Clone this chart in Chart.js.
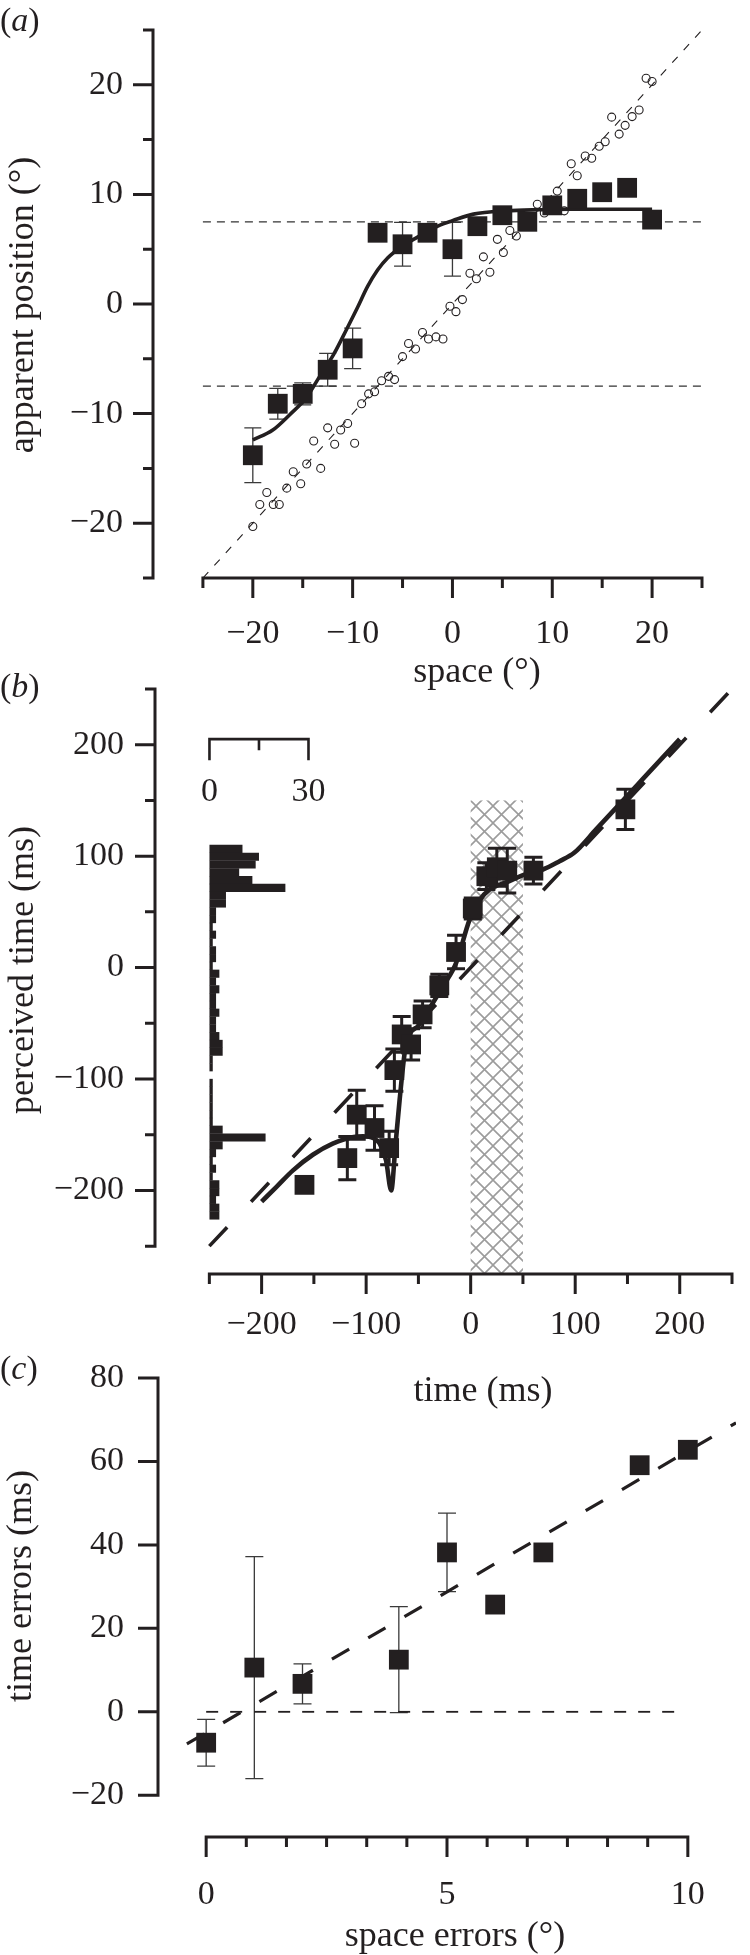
<!DOCTYPE html>
<html><head><meta charset="utf-8">
<script src="https://cdn.jsdelivr.net/npm/chart.js@4/dist/chart.umd.min.js"></script>
<style>
html,body{margin:0;padding:0;background:#fff;}
body{width:750px;height:1955px;position:relative;overflow:hidden;}
canvas{position:absolute;left:0;}
</style></head><body>
<canvas id="ca" width="750" height="700" style="top:0;width:750px;height:700px"></canvas>
<canvas id="cb" width="750" height="760" style="top:670px;width:750px;height:760px"></canvas>
<canvas id="cc" width="750" height="605" style="top:1350px;width:750px;height:605px"></canvas>
<script>
const INK = '#231f20';
const SERIF = '"Liberation Serif", "Times New Roman", Times, serif';

// ---------- Panel (a): apparent position vs space ----------
const aSpace    = [-20, -17.5, -15, -12.5, -10, -7.5, -5, -2.5, 0, 2.5, 5, 7.5, 10, 12.5, 15, 17.5, 20];
const aApparent = [-13.8, -9.1, -8.2, -6.0, -4.05, 6.5, 5.45, 6.5, 5.0, 7.1, 8.1, 7.5, 9.0, 9.6, 10.2, 10.6, 7.7];
const aErr      = [2.5, 1.4, 1.0, 1.5, 1.85, 0, 2.0, 0, 2.45, 0, 0, 0, 0, 0, 0, 0, 0];
const aCircleX  = [-20.0, -19.3, -18.6, -17.95, -17.35, -16.6, -15.95, -15.2, -14.6, -13.2, -13.9, -12.5, -11.8, -11.2, -10.5, -9.8, -9.1, -8.4, -7.8, -7.1, -6.4, -5.8, -5.0, -4.4, -3.7, -3.0, -2.4, -1.65, -0.95, -0.25, 0.35, 1.0, 1.75, 2.4, 3.75, 3.1, 5.1, 4.5, 5.75, 6.4, 8.5, 9.2, 10.5, 11.2, 11.9, 12.5, 13.3, 13.95, 14.7, 15.3, 15.95, 16.7, 17.3, 18.0, 18.7, 19.4, 20.0];
const aCircleY  = [-20.3, -18.3, -17.2, -18.3, -18.3, -16.8, -15.3, -16.4, -14.6, -15.0, -12.5, -11.3, -12.8, -11.5, -10.9, -12.7, -9.1, -8.2, -8.0, -7.0, -6.6, -6.9, -4.8, -3.6, -4.1, -2.6, -3.2, -3.0, -3.2, -0.2, -0.7, 0.4, 2.8, 2.3, 2.9, 4.3, 4.7, 5.9, 6.7, 6.2, 9.1, 8.3, 10.3, 8.5, 12.8, 11.7, 13.5, 13.3, 14.4, 14.8, 17.05, 15.5, 16.3, 17.1, 17.7, 20.6, 20.3];
const aFitX     = [-20, -18, -16.3, -14.6, -13.3, -11.9, -10.6, -9.5, -8.5, -7.5, -6.5, -5, -3.5, -2.5, -1.25, 0, 2.1, 5.4, 8.8, 12, 15.4, 20];
const aFitY     = [-12.4, -11.5, -10.1, -8.5, -6.6, -4.6, -2.3, -0.3, 1.6, 3.1, 4.2, 5.3, 6.1, 6.6, 7.2, 7.6, 8.2, 8.5, 8.6, 8.65, 8.65, 8.65];
const aRefX     = [-25, 25];
const aRefY     = [-25, 25];
const aBoundX   = [-25, 25];
const aUpperY   = [7.5, 7.5];
const aLowerY   = [-7.5, -7.5];
const aXTicks   = [-20, -10, 0, 10, 20];
const aXMinor   = [-25, -15, -5, 5, 15, 25];
const aYTicks   = [-20, -10, 0, 10, 20];
const aYMinor   = [-25, -15, -5, 5, 15, 25];

// ---------- Panel (b): perceived time vs time ----------
const bTime      = [-159, -118, -109, -92, -78, -73, -66, -57, -46, -30, -14, 2, 15, 25, 35, 60, 148];
const bPerceived = [-195, -171, -132, -144, -162, -92, -60, -69, -42, -16, 14, 53, 82, 90, 87, 87, 142];
const bErr       = [3, 19.5, 22, 20, 15, 19, 16, 14, 12, 10, 15, 9.5, 12, 17, 20, 12, 18];
const bFitX      = [-200, -186, -170, -151, -132, -112, -103, -93, -87, -81, -76, -72, -68, -62, -50, -39, -26, -14, -1, 9, 18, 37, 50, 69, 85, 99, 120, 160, 200];
const bFitY      = [-210, -197, -182, -168, -158, -152, -151.5, -153, -158, -173, -200, -160, -119, -70, -52, -36, -16, 4, 43, 61, 70, 77.5, 83, 88, 95.5, 103, 124, 164.5, 205];
const bRefX      = [-250, 250];
const bRefY      = [-250, 250];
const bHistBins  = [106.5, 99.5, 92.5, 85.5, 78.5, 71.5, 64.5, 57.5, 50.5, 43.5, 36.5, 29.5, 22.5, 15.5, 8.5, 1.5, -5.5, -12.5, -19.5, -26.5, -33.5, -40.5, -47.5, -54.5, -61.5, -68.5, -75.5, -82.5, -89.5, -96.5, -103.5, -110.5, -117.5, -124.5, -131.5, -138.5, -145.5, -152.5, -159.5, -166.5, -173.5, -180.5, -187.5, -194.5, -201.5, -208.5, -215.5, -222.5];
const bHistCounts= [10, 15, 14, 9, 13, 23, 5, 5, 2, 2, 1, 2, 1, 2, 2, 1, 3, 2, 3, 2, 2, 3, 2, 2, 3, 4, 4, 1, 1, 0, 1, 1, 1, 1, 1, 1, 4, 17, 4, 2, 1, 2, 1, 3, 3, 2, 3, 3];
const bHatchTime = [0, 50];
const bHatchTop  = 150;
const bHistAxisLevel = 205;
const bHistAxisTicks = [0, 30];
const bHistAxisMinor = [15];
const bXTicks    = [-200, -100, 0, 100, 200];
const bXMinor    = [-250, -150, -50, 50, 150, 250];
const bYTicks    = [-200, -100, 0, 100, 200];
const bYMinor    = [-250, -150, -50, 50, 150, 250];

// ---------- Panel (c): time errors vs space errors ----------
const cSpaceErr = [0, 1, 2, 4, 5, 6, 7, 9, 10];
const cTimeErr  = [-7.4, 10.6, 6.7, 12.5, 38.2, 25.7, 38.2, 59.1, 62.8];
const cErr      = [5.6, 26.6, 4.8, 12.7, 9.4, 0, 0, 0, 0];
const cFitX     = [-0.4, 11];
const cFitY     = [-7.7, 69.25];
const cZeroX    = [0, 9.9];
const cZeroY    = [0, 0];
const cXTicks   = [0, 5, 10];
const cXMinor   = [0.8333, 1.6667, 2.5, 3.3333, 4.1667, 5.8333, 6.6667, 7.5, 8.3333, 9.1667];
const cYTicks   = [-20, 0, 20, 40, 60, 80];

// ---------- helpers ----------
const pts = (xs, ys) => xs.map((x, i) => ({x, y: ys[i]}));
const fmt = v => (v < 0 ? '\u2212' + Math.abs(v) : String(v));

function axisScale(axis, min, max, tickVals, boxSize, pad) {
  return {
    type: 'linear', axis, position: axis === 'x' ? 'bottom' : 'left', min, max, offset: false,
    grid: {display: false, drawTicks: false, offset: false}, border: {display: false},
    afterBuildTicks: s => { s.ticks = tickVals.map(v => ({value: v})); },
    afterFit: s => {
      if (axis === 'x') s.height = boxSize; else s.width = boxSize;
      s.paddingTop = 0; s.paddingBottom = 0; s.paddingLeft = 0; s.paddingRight = 0;
    },
    ticks: {autoSkip: false, maxRotation: 0, minRotation: 0, padding: pad, color: INK,
            font: {family: SERIF, size: 34}, callback: v => fmt(v)}
  };
}
function lineDs(data, o) {
  return Object.assign({type: 'line', data, showLine: true, pointRadius: 0, pointHoverRadius: 0,
    fill: false, borderColor: INK, backgroundColor: INK, borderWidth: 1, tension: 0,
    xAxisID: 'x', yAxisID: 'y'}, o);
}
function squareDs(data, o) {
  return Object.assign({type: 'scatter', data, pointStyle: 'rect', pointRadius: 14, pointHoverRadius: 14,
    pointBackgroundColor: INK, pointBorderWidth: 0, backgroundColor: INK, borderColor: INK,
    xAxisID: 'x', yAxisID: 'y'}, o);
}
function baseOptions(padding, scales) {
  return {responsive: false, animation: false, devicePixelRatio: 1, events: [],
    layout: {padding}, plugins: {legend: {display: false}, tooltip: {enabled: false}}, scales};
}

// axes drawn offset, Origin style, from the chart's own scales
function axesPlugin(cfg) {
  return {
    id: 'frameAxes',
    afterDraw(chart) {
      const xs = chart.scales.x, ys = chart.scales.y, ctx = chart.ctx, ca = chart.chartArea;
      const h = cfg.lw / 2;
      ctx.save();
      ctx.strokeStyle = INK; ctx.lineWidth = cfg.lw; ctx.lineCap = 'butt';
      ctx.beginPath();
      const ax = ca.left;
      ctx.moveTo(ax, ys.getPixelForValue(cfg.ySpan[1]) - h);
      ctx.lineTo(ax, ys.getPixelForValue(cfg.ySpan[0]) + h);
      cfg.yMajor.forEach(v => { const p = ys.getPixelForValue(v); ctx.moveTo(ax, p); ctx.lineTo(ax - cfg.major, p); });
      cfg.yMinor.forEach(v => { const p = ys.getPixelForValue(v); ctx.moveTo(ax, p); ctx.lineTo(ax - cfg.minor, p); });
      const ay = ca.bottom;
      ctx.moveTo(xs.getPixelForValue(cfg.xSpan[0]) - h, ay);
      ctx.lineTo(xs.getPixelForValue(cfg.xSpan[1]) + h, ay);
      cfg.xMajor.forEach(v => { const p = xs.getPixelForValue(v); ctx.moveTo(p, ay); ctx.lineTo(p, ay + cfg.major); });
      cfg.xMinor.forEach(v => { const p = xs.getPixelForValue(v); ctx.moveTo(p, ay); ctx.lineTo(p, ay + cfg.minor); });
      ctx.stroke();
      ctx.restore();
    }
  };
}
const errorBarPlugin = {
  id: 'errorBars',
  beforeDatasetsDraw(chart) {
    const ctx = chart.ctx;
    chart.data.datasets.forEach((ds, i) => {
      if (!ds.errorBars) return;
      const meta = chart.getDatasetMeta(i);
      const ys = chart.scales[meta.yAxisID];
      ctx.save();
      ctx.strokeStyle = ds.errColor || INK; ctx.lineWidth = ds.errLineWidth;
      ctx.beginPath();
      meta.data.forEach((pt, j) => {
        const e = ds.errorBars[j]; if (!e) return;
        const v = ds.data[j].y;
        const yt = ys.getPixelForValue(v + e), yb = ys.getPixelForValue(v - e);
        ctx.moveTo(pt.x, yt); ctx.lineTo(pt.x, yb);
        ctx.moveTo(pt.x - ds.capHalf, yt); ctx.lineTo(pt.x + ds.capHalf, yt);
        ctx.moveTo(pt.x - ds.capHalf, yb); ctx.lineTo(pt.x + ds.capHalf, yb);
      });
      ctx.stroke();
      ctx.restore();
    });
  }
};
function textPlugin(items) {
  return {
    id: 'panelText',
    afterDraw(chart) {
      const ctx = chart.ctx;
      items.forEach(it => {
        ctx.save();
        ctx.fillStyle = INK; ctx.textBaseline = 'middle';
        ctx.translate(it.x, it.y);
        if (it.rot) ctx.rotate(it.rot * Math.PI / 180);
        if (it.parts) {
          let x = 0; ctx.textAlign = 'left';
          it.parts.forEach(([t, ital]) => {
            ctx.font = (ital ? 'italic ' : '') + it.size + 'px ' + SERIF;
            ctx.fillText(t, x, 0); x += ctx.measureText(t).width;
          });
        } else {
          ctx.textAlign = 'center'; ctx.font = it.size + 'px ' + SERIF;
          ctx.fillText(it.text, 0, 0);
        }
        ctx.restore();
      });
    }
  };
}
function hatchPlugin() {
  return {
    id: 'hatch',
    beforeDatasetsDraw(chart) {
      const ctx = chart.ctx, xs = chart.scales.x, ys = chart.scales.y, ca = chart.chartArea;
      const size = 17;
      const tile = document.createElement('canvas'); tile.width = tile.height = size;
      const g = tile.getContext('2d');
      g.strokeStyle = '#9c9c9c'; g.lineWidth = 1.6;
      g.beginPath();
      for (let k = -1; k <= 1; k++) {
        g.moveTo(k * size, 0); g.lineTo(k * size + size, size);
        g.moveTo(k * size + size, 0); g.lineTo(k * size, size);
      }
      g.stroke();
      const x0 = xs.getPixelForValue(bHatchTime[0]), x1 = xs.getPixelForValue(bHatchTime[1]);
      const y0 = ys.getPixelForValue(bHatchTop);
      ctx.save();
      ctx.fillStyle = ctx.createPattern(tile, 'repeat');
      ctx.fillRect(x0, y0, x1 - x0, ca.bottom - y0);
      ctx.restore();
    }
  };
}
function histAxisPlugin() {
  return {
    id: 'histAxis',
    afterDatasetsDraw(chart) {
      const ctx = chart.ctx, xs = chart.scales.xh, ys = chart.scales.y;
      const y0 = ys.getPixelForValue(bHistAxisLevel);
      const lw = 2.6, h = lw / 2;
      const px = bHistAxisTicks.map(v => xs.getPixelForValue(v));
      ctx.save();
      ctx.strokeStyle = INK; ctx.lineWidth = lw;
      ctx.beginPath();
      ctx.moveTo(px[0] - h, y0); ctx.lineTo(px[px.length - 1] + h, y0);
      px.forEach(p => { ctx.moveTo(p, y0); ctx.lineTo(p, y0 + 21); });
      bHistAxisMinor.forEach(v => { const p = xs.getPixelForValue(v); ctx.moveTo(p, y0); ctx.lineTo(p, y0 + 11); });
      ctx.stroke();
      ctx.fillStyle = INK; ctx.font = '34px ' + SERIF; ctx.textAlign = 'center'; ctx.textBaseline = 'middle';
      bHistAxisTicks.forEach((v, i) => ctx.fillText(String(v), px[i], y0 + 53));
      ctx.restore();
    }
  };
}

// ---------- Chart (a) ----------
new Chart(document.getElementById('ca'), {
  type: 'scatter',
  data: {datasets: [
    squareDs(pts(aSpace, aApparent), {errorBars: aErr, errLineWidth: 1.3, capHalf: 8.5, errColor: '#3a3a3a'}),
    lineDs(pts(aFitX, aFitY), {borderWidth: 3.6, cubicInterpolationMode: 'monotone'}),
    {type: 'scatter', data: pts(aCircleX, aCircleY), pointStyle: 'circle', pointRadius: 4, pointHoverRadius: 4,
     pointBorderWidth: 1.1, pointBorderColor: INK, pointBackgroundColor: 'rgba(255,255,255,0)',
     borderColor: INK, backgroundColor: 'rgba(255,255,255,0)', xAxisID: 'x', yAxisID: 'y'},
    lineDs(pts(aRefX, aRefY), {borderWidth: 1.1, borderDash: [8, 9]}),
    lineDs(pts(aBoundX, aUpperY), {borderWidth: 1.3, borderDash: [8, 6], borderColor: '#333'}),
    lineDs(pts(aBoundX, aLowerY), {borderWidth: 1.3, borderDash: [8, 6], borderColor: '#333'})
  ]},
  options: baseOptions({top: 30, right: 48, left: 0, bottom: 0}, {
    x: axisScale('x', -30, 25, aXTicks, 122, 36),
    y: axisScale('y', -25, 25, aYTicks, 153, 30)
  }),
  plugins: [errorBarPlugin,
    axesPlugin({lw: 3, major: 20, minor: 10, xSpan: [-25, 25], ySpan: [-25, 25],
                xMajor: aXTicks, xMinor: aXMinor, yMajor: aYTicks, yMinor: aYMinor}),
    textPlugin([
      {parts: [['(', false], ['a', true], [')', false]], x: 0, y: 22, size: 34},
      {text: 'apparent position (°)', x: 24, y: 305, rot: -90, size: 36},
      {text: 'space (°)', x: 477, y: 673, size: 36}
    ])]
});

// ---------- Chart (b) ----------
new Chart(document.getElementById('cb'), {
  type: 'scatter',
  data: {datasets: [
    squareDs(pts(bTime, bPerceived), {errorBars: bErr, errLineWidth: 3, capHalf: 9}),
    lineDs(pts(bFitX, bFitY), {borderWidth: 4.6, cubicInterpolationMode: 'monotone'}),
    {type: 'bar', indexAxis: 'y', xAxisID: 'xh', yAxisID: 'y',
     data: bHistBins.map((b, i) => ({x: bHistCounts[i], y: b})),
     backgroundColor: INK, borderWidth: 0, barPercentage: 1.04, categoryPercentage: 1, grouped: false},
    lineDs(pts(bRefX, bRefY), {borderWidth: 3.6, borderDash: [26, 35]})
  ]},
  options: baseOptions({top: 19, right: 18, left: 0, bottom: 0}, {
    x: axisScale('x', -302, 250, bXTicks, 156, 31),
    y: axisScale('y', -275, 250, bYTicks, 155, 31),
    xh: {type: 'linear', axis: 'x', position: 'bottom', display: false, offset: false, min: -16.5, max: 158.3}
  }),
  plugins: [hatchPlugin(), errorBarPlugin, histAxisPlugin(),
    axesPlugin({lw: 3, major: 20, minor: 10, xSpan: [-250, 250], ySpan: [-250, 250],
                xMajor: bXTicks, xMinor: bXMinor, yMajor: bYTicks, yMinor: bYMinor}),
    textPlugin([
      {parts: [['(', false], ['b', true], [')', false]], x: 0, y: 18, size: 34},
      {text: 'perceived time (ms)', x: 24, y: 300, rot: -90, size: 36},
      {text: 'time (ms)', x: 483, y: 722, size: 36}
    ])]
});

// ---------- Chart (c) ----------
new Chart(document.getElementById('cc'), {
  type: 'scatter',
  data: {datasets: [
    squareDs(pts(cSpaceErr, cTimeErr), {errorBars: cErr, errLineWidth: 1.3, capHalf: 9, errColor: '#3a3a3a'}),
    lineDs(pts(cFitX, cFitY), {borderWidth: 3.2, borderDash: [20, 22]}),
    lineDs(pts(cZeroX, cZeroY), {borderWidth: 1.8, borderDash: [12, 12]})
  ]},
  options: baseOptions({top: 28, right: 0, left: 0, bottom: 0}, {
    x: axisScale('x', -1, 11, cXTicks, 118, 38),
    y: axisScale('y', -30, 80, cYTicks, 158, 34)
  }),
  plugins: [errorBarPlugin,
    axesPlugin({lw: 3, major: 20, minor: 10, xSpan: [0, 10], ySpan: [-20, 80],
                xMajor: cXTicks, xMinor: cXMinor, yMajor: cYTicks, yMinor: []}),
    textPlugin([
      {parts: [['(', false], ['c', true], [')', false]], x: 0, y: 20, size: 34},
      {text: 'time errors (ms)', x: 22, y: 236, rot: -90, size: 36},
      {text: 'space errors (°)', x: 455, y: 587, size: 36}
    ])]
});
</script>
</body></html>
